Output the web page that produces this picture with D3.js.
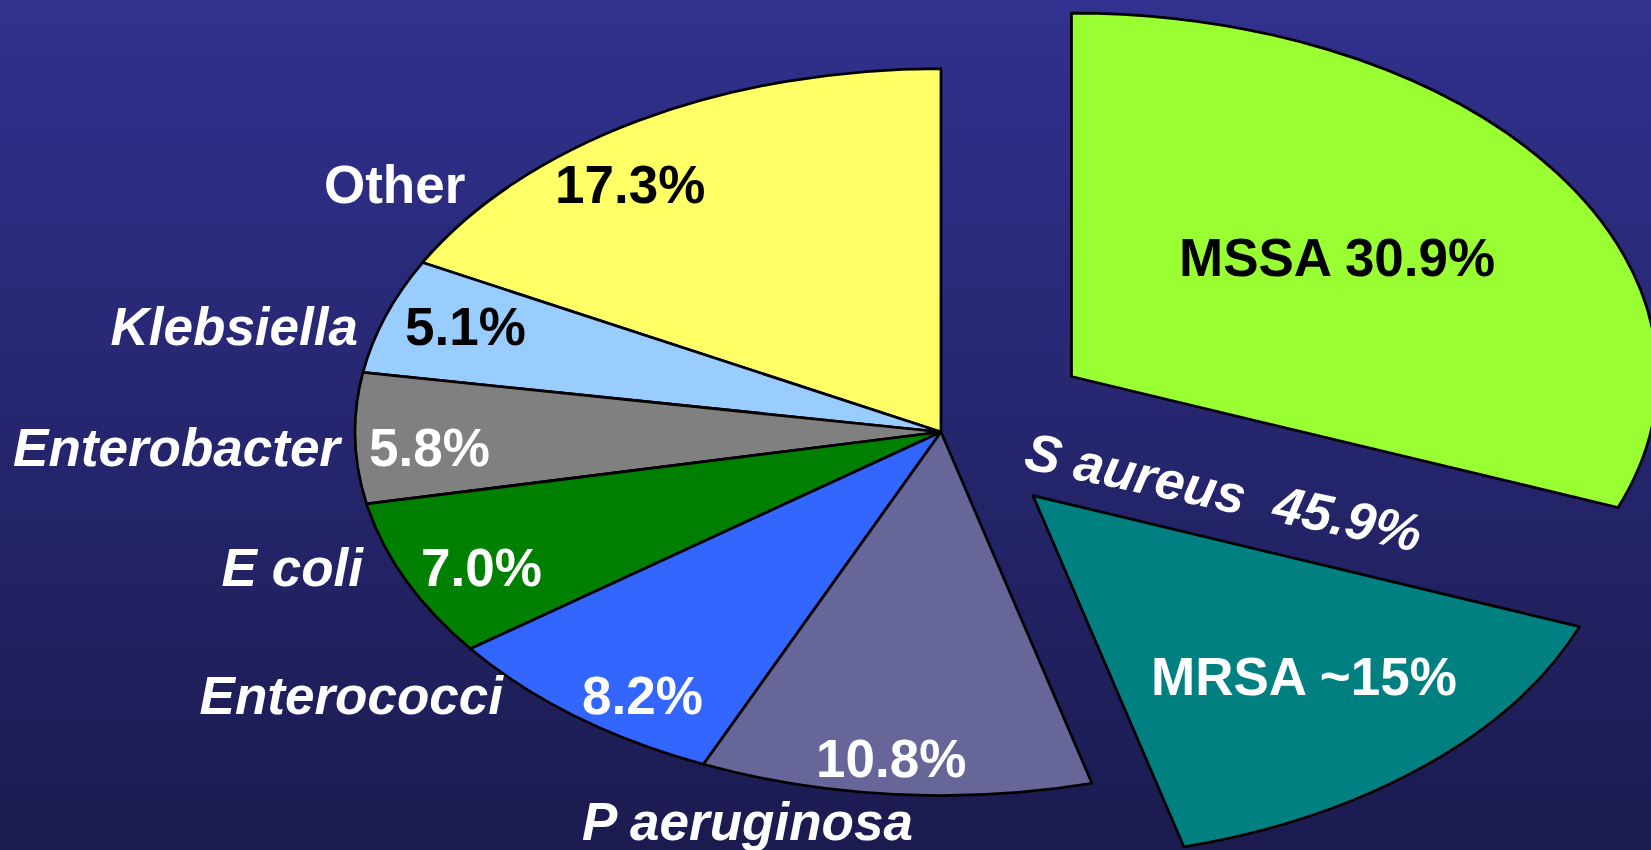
<!DOCTYPE html>
<html>
<head>
<meta charset="utf-8">
<script src="https://cdn.jsdelivr.net/npm/d3@7"></script>
<style>
  html, body { margin: 0; padding: 0; overflow: hidden; }
  text { font-family: "Liberation Sans", Arial, sans-serif; font-weight: bold; }
</style>
</head>
<body>
<div id="chart"></div>
<script>
// organisms, counter-clockwise from 12 o'clock
const categories = ["Other", "Klebsiella", "Enterobacter", "E coli", "Enterococci", "P aeruginosa", "MRSA", "MSSA"];
const values = [17.3, 5.1, 5.8, 7.0, 8.2, 10.8, 15, 30.9];
const colors = ["#FFFF66", "#99CCFF", "#808080", "#008000", "#3366FF", "#666699", "#008080", "#99FF33"];
const italicNames = ["Klebsiella", "Enterobacter", "E coli", "Enterococci", "P aeruginosa"];
const darkText = ["Other", "Klebsiella", "MSSA"];

const width = 1651, height = 850;
const cx = 941, cy = 432, rx = 586, ry = 363.5;
const fontSize = 53;
// pulled out slices (fraction of radius)
const explode = { "MSSA": 0.27, "MRSA": 0.235 };

// hand placed labels, like the slide
const nameLabels = {
  "Other": [324, 203, "start"],
  "Klebsiella": [358, 345, "end"],
  "Enterobacter": [340, 466, "end"],
  "E coli": [363, 586, "end"],
  "Enterococci": [503, 714, "end"],
  "P aeruginosa": [582, 840, "start"]
};
const pctLabels = {
  "Other": [555, 203, "start"],
  "Klebsiella": [405, 345, "start"],
  "Enterobacter": [369, 466, "start"],
  "E coli": [421, 586, "start"],
  "Enterococci": [582, 714, "start"],
  "P aeruginosa": [816, 777, "start"],
  "MRSA": [1151, 695, "start"],
  "MSSA": [1179, 276, "start"]
};

const svg = d3.select("#chart").append("svg")
  .attr("width", width)
  .attr("height", height);

const grad = svg.append("defs").append("linearGradient")
  .attr("id", "bg").attr("x1", 0).attr("y1", 0).attr("x2", 0).attr("y2", 1);
grad.append("stop").attr("offset", "0%").attr("stop-color", "#31318F");
grad.append("stop").attr("offset", "100%").attr("stop-color", "#1B1B50");

svg.append("rect").attr("width", width).attr("height", height).attr("fill", "url(#bg)");

const data = categories.map((c, i) => ({ name: c, value: values[i], color: colors[i] }));

const pie = d3.pie()
  .sort(null)
  .value(d => d.value)
  .startAngle(0)
  .endAngle(-2 * Math.PI);

const arc = d3.arc().innerRadius(0).outerRadius(ry);

// squash the circle into the ellipse
const g = svg.append("g")
  .attr("transform", "translate(" + cx + "," + cy + ") scale(" + (rx / ry) + ",1)");

g.selectAll("path")
  .data(pie(data))
  .enter()
  .append("path")
  .attr("d", arc)
  .attr("fill", d => d.data.color)
  .attr("stroke", "black")
  .attr("stroke-width", 2.75)
  .attr("stroke-linejoin", "round")
  .attr("vector-effect", "non-scaling-stroke")
  .attr("transform", d => {
    const e = explode[d.data.name] || 0;
    const mid = (d.startAngle + d.endAngle) / 2;
    return "translate(" + (ry * e * Math.sin(mid)) + "," + (-ry * e * Math.cos(mid)) + ")";
  });

const fmt = d3.format(".1f");

svg.selectAll("text.name")
  .data(Object.keys(nameLabels))
  .enter()
  .append("text")
  .attr("class", "name")
  .attr("x", d => nameLabels[d][0])
  .attr("y", d => nameLabels[d][1])
  .attr("text-anchor", d => nameLabels[d][2])
  .attr("font-size", fontSize)
  .attr("font-style", d => italicNames.includes(d) ? "italic" : "normal")
  .attr("fill", "white")
  .text(d => d);

svg.selectAll("text.pct")
  .data(Object.keys(pctLabels))
  .enter()
  .append("text")
  .attr("class", "pct")
  .attr("x", d => pctLabels[d][0])
  .attr("y", d => pctLabels[d][1])
  .attr("text-anchor", d => pctLabels[d][2])
  .attr("font-size", fontSize)
  .attr("fill", d => darkText.includes(d) ? "black" : "white")
  .text(d => {
    const v = values[categories.indexOf(d)];
    if (d === "MRSA") return "MRSA ~" + v + "%";
    if (d === "MSSA") return "MSSA " + fmt(v) + "%";
    return fmt(v) + "%";
  });

// total for S aureus
const saureus = values[categories.indexOf("MRSA")] + values[categories.indexOf("MSSA")];
svg.append("text")
  .attr("transform", "translate(1220,510) rotate(12)")
  .attr("text-anchor", "middle")
  .attr("font-size", fontSize)
  .attr("font-style", "italic")
  .attr("fill", "white")
  .style("white-space", "pre")
  .text("S aureus  " + fmt(saureus) + "%");
</script>
</body>
</html>
